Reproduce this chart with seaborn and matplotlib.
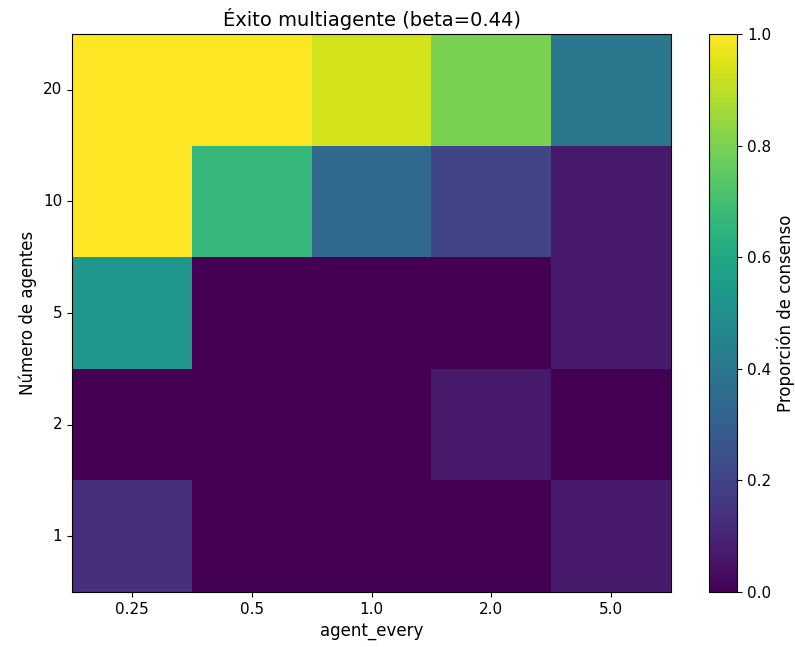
import numpy as np
import pandas as pd
import seaborn as sns
import matplotlib.pyplot as plt

# agent_every on x, number of agents on y (top row = 20 agents)
agent_every = ['0.25', '0.5', '1.0', '2.0', '5.0']
n_agents = ['20', '10', '5', '2', '1']
consensus = [
    [1.000, 1.000, 0.933, 0.800, 0.400],
    [1.000, 0.667, 0.333, 0.200, 0.067],
    [0.533, 0.000, 0.000, 0.000, 0.067],
    [0.000, 0.000, 0.000, 0.067, 0.000],
    [0.133, 0.000, 0.000, 0.000, 0.067],
]

df = pd.DataFrame(consensus, index=n_agents, columns=agent_every)

fig = plt.figure(figsize=(7.95, 6.47), dpi=100)
ax = fig.add_axes([0.0906, 0.085, 0.7535, 0.8624])
cax = fig.add_axes([0.892, 0.085, 0.0352, 0.8624])

sns.heatmap(df, ax=ax, cbar_ax=cax, cmap='viridis', vmin=0, vmax=1)

# bring back the frame that seaborn strips off
for s in ax.spines.values():
    s.set_visible(True)
    s.set_linewidth(0.8)
cb = ax.collections[0].colorbar
cb.outline.set_visible(True)
cb.outline.set_linewidth(0.8)
cb.set_ticks([0.0, 0.2, 0.4, 0.6, 0.8, 1.0])
cb.ax.tick_params(labelsize=11)
cb.set_label('Proporción de consenso', fontsize=12)

ax.set_yticklabels(n_agents, rotation=0)
ax.set_xticklabels(agent_every, rotation=0)
ax.tick_params(labelsize=11)
ax.set_title('Éxito multiagente (beta=0.44)', fontsize=14)
ax.set_xlabel('agent_every', fontsize=12)
ax.set_ylabel('Número de agentes', fontsize=12)

fig.savefig('out.png', dpi=100)
